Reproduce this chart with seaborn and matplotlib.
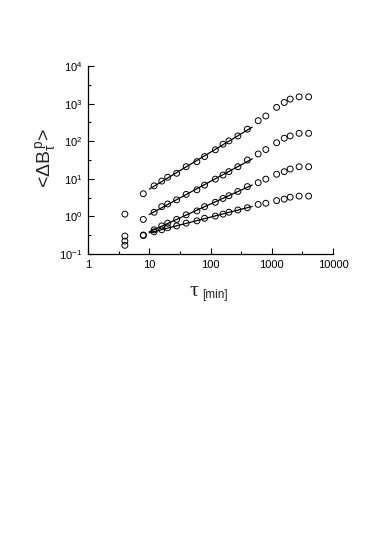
import numpy as np
import pandas as pd
import matplotlib
matplotlib.use("Agg")
import matplotlib.pyplot as plt
import matplotlib.ticker as mticker
import seaborn as sns

# -------------------------
# Data
# -------------------------
tau = [4, 8, 12, 16, 20, 28, 40, 60, 80, 120, 160, 200, 280, 400,
       600, 800, 1200, 1600, 2000, 2800, 4000]
series_p1 = [1.15, 4.0, 6.5, 8.7, 11, 14, 21, 28.5, 39, 59, 83, 102, 138, 209,
             351, 468, 794, 1070, 1320, 1510, 1510]
series_p2 = [0.30, 0.83, 1.29, 1.82, 2.14, 2.75, 3.85, 5.1, 6.8, 9.8, 12.6, 15.5,
             20.9, 31.6, 45.7, 60, 91, 120, 138, 162, 162]
series_p3 = [0.22, 0.32, 0.44, 0.56, 0.66, 0.83, 1.10, 1.40, 1.82, 2.37, 3.0, 3.55,
             4.6, 6.2, 7.9, 9.8, 13.2, 15.5, 18.2, 20.9, 20.9]
series_p4 = [0.17, 0.31, 0.39, 0.44, 0.50, 0.56, 0.66, 0.76, 0.89, 1.02, 1.15, 1.29,
             1.48, 1.70, 2.09, 2.24, 2.63, 2.88, 3.24, 3.47, 3.47]
series_names = ["p1", "p2", "p3", "p4"]
fit_range = [10, 480]  # tau interval covered by the power-law fits

df = pd.DataFrame({"tau": tau * 4,
                   "value": series_p1 + series_p2 + series_p3 + series_p4,
                   "series": np.repeat(series_names, len(tau))})

# power-law fits in the scaling range
fit_rows = []
for name, grp in df.groupby("series"):
    sel = grp[(grp.tau >= fit_range[0]) & (grp.tau <= fit_range[1])]
    slope, icpt = np.polyfit(np.log10(sel.tau), np.log10(sel.value), 1)
    for t in fit_range:
        fit_rows.append({"tau": t, "value": 10 ** (icpt + slope * np.log10(t)), "series": name})
df_fit = pd.DataFrame(fit_rows)

# -------------------------
# Style
# -------------------------
sns.set_style("ticks")
plt.rcParams["font.family"] = ["Liberation Sans", "DejaVu Sans"]
plt.rcParams["mathtext.fontset"] = "custom"
plt.rcParams["mathtext.rm"] = "Liberation Sans"
plt.rcParams["mathtext.it"] = "Liberation Sans:italic"
plt.rcParams["axes.unicode_minus"] = False

fig = plt.figure(figsize=(3.74, 5.37), dpi=100)
ax = fig.add_axes([88 / 374, 1 - 254 / 537, 245 / 374, 188 / 537])

sns.lineplot(data=df_fit, x="tau", y="value", units="series", estimator=None,
             color="black", linewidth=0.9, ax=ax)
sns.scatterplot(data=df, x="tau", y="value", marker="o", s=18,
                facecolor="none", edgecolor="black", linewidth=0.7, ax=ax, zorder=3)

ax.set_xscale("log")
ax.set_yscale("log")
ax.set_xlim(1, 10000)
ax.set_ylim(0.1, 10000)
sns.despine(ax=ax)

ax.xaxis.set_major_locator(mticker.LogLocator(base=10, numticks=10))
ax.xaxis.set_major_formatter(mticker.FuncFormatter(lambda v, _: f"{v:g}"))
ax.xaxis.set_minor_locator(mticker.LogLocator(base=10, subs=[3.16], numticks=10))
ax.yaxis.set_major_locator(mticker.LogLocator(base=10, numticks=10))
ax.yaxis.set_major_formatter(
    mticker.FuncFormatter(lambda v, _: r"10$^{%d}$" % round(np.log10(v))))
ax.yaxis.set_minor_locator(mticker.LogLocator(base=10, subs=[3.16], numticks=10))
ax.xaxis.set_minor_formatter(mticker.NullFormatter())
ax.yaxis.set_minor_formatter(mticker.NullFormatter())
ax.tick_params(which="both", direction="in", width=0.8, labelsize=8, pad=4,
               colors="black")
ax.tick_params(which="major", length=4)
ax.tick_params(which="minor", length=2.5)
for sp in ax.spines.values():
    sp.set_linewidth(0.9)
    sp.set_color("black")

ax.set_xlabel("")
ax.set_ylabel("")
fig.text(46 / 374, 1 - 158 / 537, r"<ΔB$_{\mathrm{\tau}}^{\,\mathrm{p}}$>", rotation=90,
         ha="center", va="center", fontsize=14)
fig.text(194 / 374, 1 - 291 / 537, "τ", family=["Liberation Serif", "DejaVu Serif"],
         ha="center", va="center", fontsize=16)
fig.text(202 / 374, 1 - 295 / 537, "[min]", ha="left", va="center", fontsize=8.5)

fig.savefig("out.png", dpi=100)
plt.close(fig)
